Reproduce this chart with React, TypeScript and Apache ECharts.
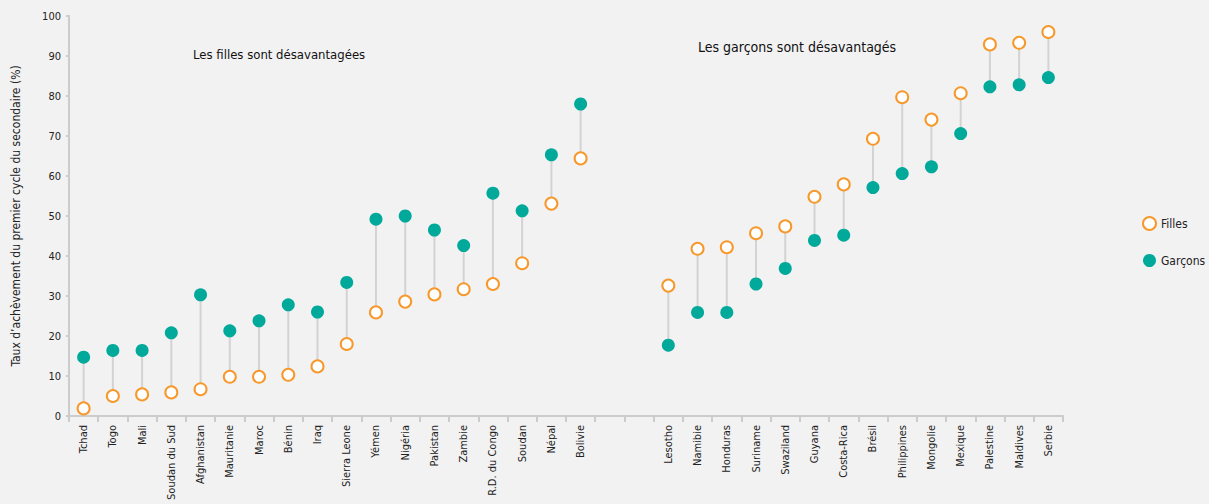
import React, { useEffect, useRef } from "react";
import * as echarts from "echarts";

const categories = [
  "Tchad", "Togo", "Mali", "Soudan du Sud", "Afghanistan", "Mauritanie", "Maroc", "Bénin", "Iraq",
  "Sierra Leone", "Yémen", "Nigéria", "Pakistan", "Zambie", "R.D. du Congo", "Soudan", "Népal", "Bolivie",
  " ", "  ",
  "Lesotho", "Namibie", "Honduras", "Suriname", "Swaziland", "Guyana", "Costa-Rica", "Brésil",
  "Philippines", "Mongolie", "Mexique", "Palestine", "Maldives", "Serbie",
];

const filles: (number | null)[] = [
  1.9, 5.0, 5.4, 5.9, 6.7, 9.8, 9.8, 10.3, 12.4,
  18.0, 25.9, 28.6, 30.4, 31.7, 33.0, 38.2, 53.1, 64.4,
  null, null,
  32.6, 41.8, 42.2, 45.7, 47.4, 54.8, 57.9, 69.3,
  79.7, 74.1, 80.7, 92.9, 93.3, 96.0,
];

const garcons: (number | null)[] = [
  14.7, 16.4, 16.4, 20.8, 30.3, 21.3, 23.8, 27.8, 26.0,
  33.4, 49.2, 50.0, 46.5, 42.6, 55.7, 51.3, 65.3, 78.0,
  null, null,
  17.7, 25.9, 25.9, 33.0, 36.9, 43.9, 45.2, 57.1,
  60.6, 62.3, 70.6, 82.3, 82.8, 84.6,
];

const seriesNames = ["Filles", "Garçons"];
const annotations = ["Les filles sont désavantagées", "Les garçons sont désavantagés"];
const yAxisTitle = "Taux d’achèvement du premier cycle du secondaire (%)";

const FONT = "'Liberation Sans Narrow', 'DejaVu Sans Condensed', 'Noto Sans', sans-serif";
const ORANGE = "#f7982a";
const TEAL = "#00a99a";

export default function App() {
  const ref = useRef<HTMLDivElement>(null);

  useEffect(() => {
    if (!ref.current) return;
    const chart = echarts.init(ref.current, undefined, { renderer: "svg" });

    const rangeData = categories.map((_, i) =>
      filles[i] == null || garcons[i] == null ? [i, null, null] : [i, filles[i], garcons[i]]
    );

    chart.setOption({
      animation: false,
      backgroundColor: "#f2f2f2",
      textStyle: { fontFamily: FONT },
      grid: {
        left: 69,
        right: 146,
        top: 16,
        bottom: 88,
        containLabel: false,
        outerBoundsMode: "none",
      },
      legend: {
        orient: "vertical",
        left: 1137,
        top: 211,
        itemGap: 23,
        itemWidth: 13,
        itemHeight: 14,
        icon: "circle",
        textStyle: { fontFamily: FONT, fontSize: 12, color: "#222" },
        data: seriesNames,
      },
      xAxis: {
        type: "category",
        data: categories,
        boundaryGap: true,
        axisLine: { lineStyle: { color: "#cccccc", width: 2 } },
        axisTick: { show: true, length: 6, lineStyle: { color: "#cccccc", width: 2 } },
        axisLabel: {
          rotate: 90,
          interval: 0,
          fontFamily: FONT,
          fontSize: 11,
          color: "#222",
          margin: 9,
        },
      },
      yAxis: {
        type: "value",
        min: 0,
        max: 100,
        interval: 10,
        name: yAxisTitle,
        nameLocation: "middle",
        nameRotate: 90,
        nameGap: 47,
        nameTextStyle: { fontFamily: FONT, fontSize: 12, color: "#222" },
        axisLine: { show: true, lineStyle: { color: "#cccccc", width: 2 } },
        axisTick: { show: true, length: 3, lineStyle: { color: "#cccccc", width: 2 } },
        splitLine: { show: false },
        axisLabel: { fontFamily: FONT, fontSize: 11, color: "#222", margin: 8 },
      },
      graphic: [
        {
          type: "text",
          left: 193,
          top: 48,
          style: { text: annotations[0], fontFamily: FONT, fontSize: 13, fill: "#111" },
        },
        {
          type: "text",
          left: 698,
          top: 40,
          style: { text: annotations[1], fontFamily: FONT, fontSize: 14, fill: "#111" },
        },
      ],
      series: [
        {
          type: "custom",
          name: "connectors",
          silent: true,
          data: rangeData,
          encode: { x: 0, y: [1, 2] },
          renderItem: (params: any, api: any) => {
            const a = api.value(1);
            const b = api.value(2);
            if (a == null || b == null || isNaN(a) || isNaN(b)) return null;
            const p1 = api.coord([api.value(0), a]);
            const p2 = api.coord([api.value(0), b]);
            return {
              type: "line",
              shape: { x1: p1[0], y1: p1[1], x2: p2[0], y2: p2[1] },
              style: { stroke: "#d3d3d3", lineWidth: 2 },
            };
          },
          z: 1,
        },
        {
          type: "scatter",
          name: seriesNames[1],
          data: garcons,
          symbol: "circle",
          symbolSize: 13,
          itemStyle: { color: TEAL, opacity: 1 },
          z: 3,
        },
        {
          type: "scatter",
          name: seriesNames[0],
          data: filles,
          symbol: "circle",
          symbolSize: 12,
          itemStyle: { color: "#ffffff", borderColor: ORANGE, borderWidth: 2, opacity: 1 },
          z: 4,
        },
      ],
    });

    return () => chart.dispose();
  }, []);

  return (
    <div
      ref={ref}
      style={{ position: "absolute", left: 0, top: 0, width: 1209, height: 504 }}
    />
  );
}
